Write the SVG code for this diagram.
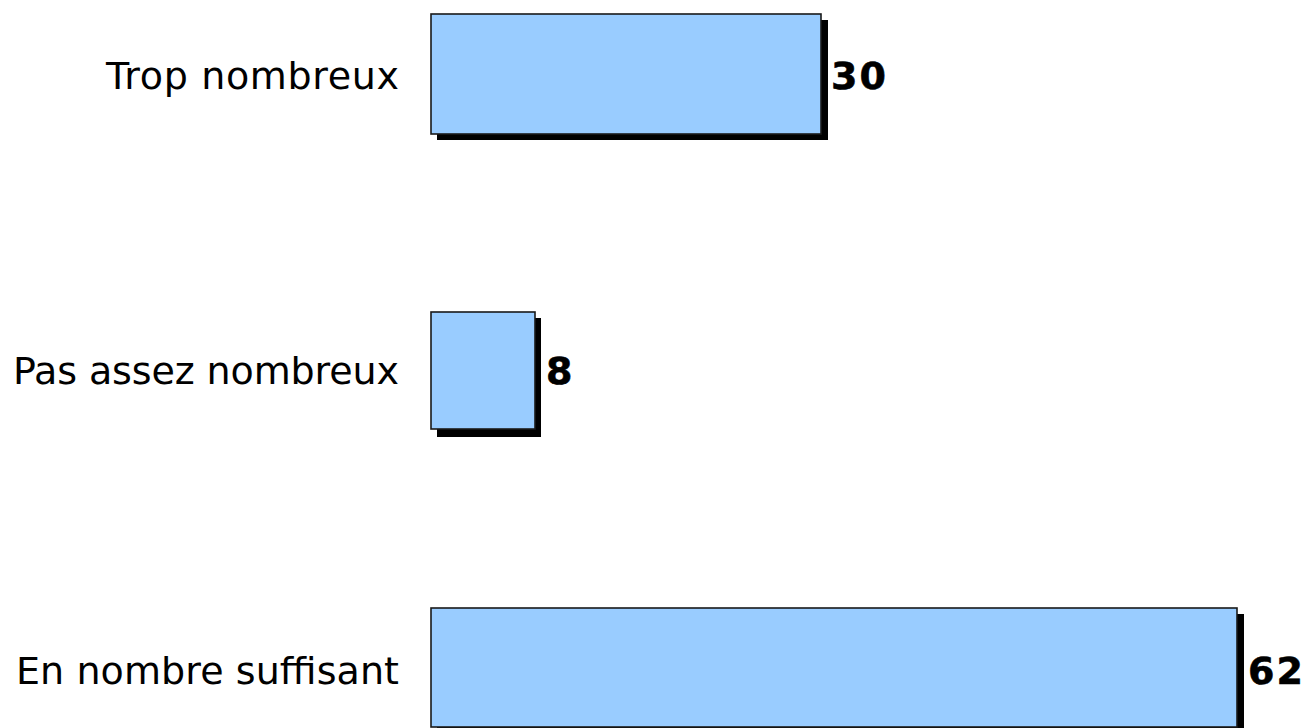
<svg xmlns="http://www.w3.org/2000/svg" width="1308" height="728" viewBox="0 0 1308 728">
<style>
.shadow{fill:#000}
.bar{fill:#99ccff;stroke:#1a1a1a;stroke-width:1.6}
.lbl{font-family:"DejaVu Sans",Verdana,sans-serif;font-size:38px;fill:#000;text-anchor:end}
.val{font-family:"DejaVu Sans",Verdana,sans-serif;font-size:38px;font-weight:bold;fill:#000;stroke:#000;stroke-width:0.6}
</style>
<rect width="1308" height="728" fill="#fff"/>
<g id="bar-trop">
<rect class="shadow" x="437" y="20" width="391" height="120"/>
<rect class="bar" x="431" y="14" width="390" height="120"/>
<text class="lbl" x="399" y="89" textLength="293" lengthAdjust="spacing">Trop nombreux</text>
<text class="val" x="831" y="89" textLength="55" lengthAdjust="spacing">30</text>
</g>
<g id="bar-pas-assez">
<rect class="shadow" x="437" y="318" width="104" height="119"/>
<rect class="bar" x="431" y="312" width="104" height="117"/>
<text class="lbl" x="399" y="384" textLength="386" lengthAdjust="spacing">Pas assez nombreux</text>
<text class="val" x="546" y="384">8</text>
</g>
<g id="bar-suffisant">
<rect class="shadow" x="437" y="614" width="807" height="120"/>
<rect class="bar" x="431" y="608" width="806" height="119"/>
<text class="lbl" x="399" y="684" textLength="383" lengthAdjust="spacing">En nombre suffisant</text>
<text class="val" x="1248" y="684" textLength="55" lengthAdjust="spacing">62</text>
</g>
<g id="connectors"/>
</svg>
